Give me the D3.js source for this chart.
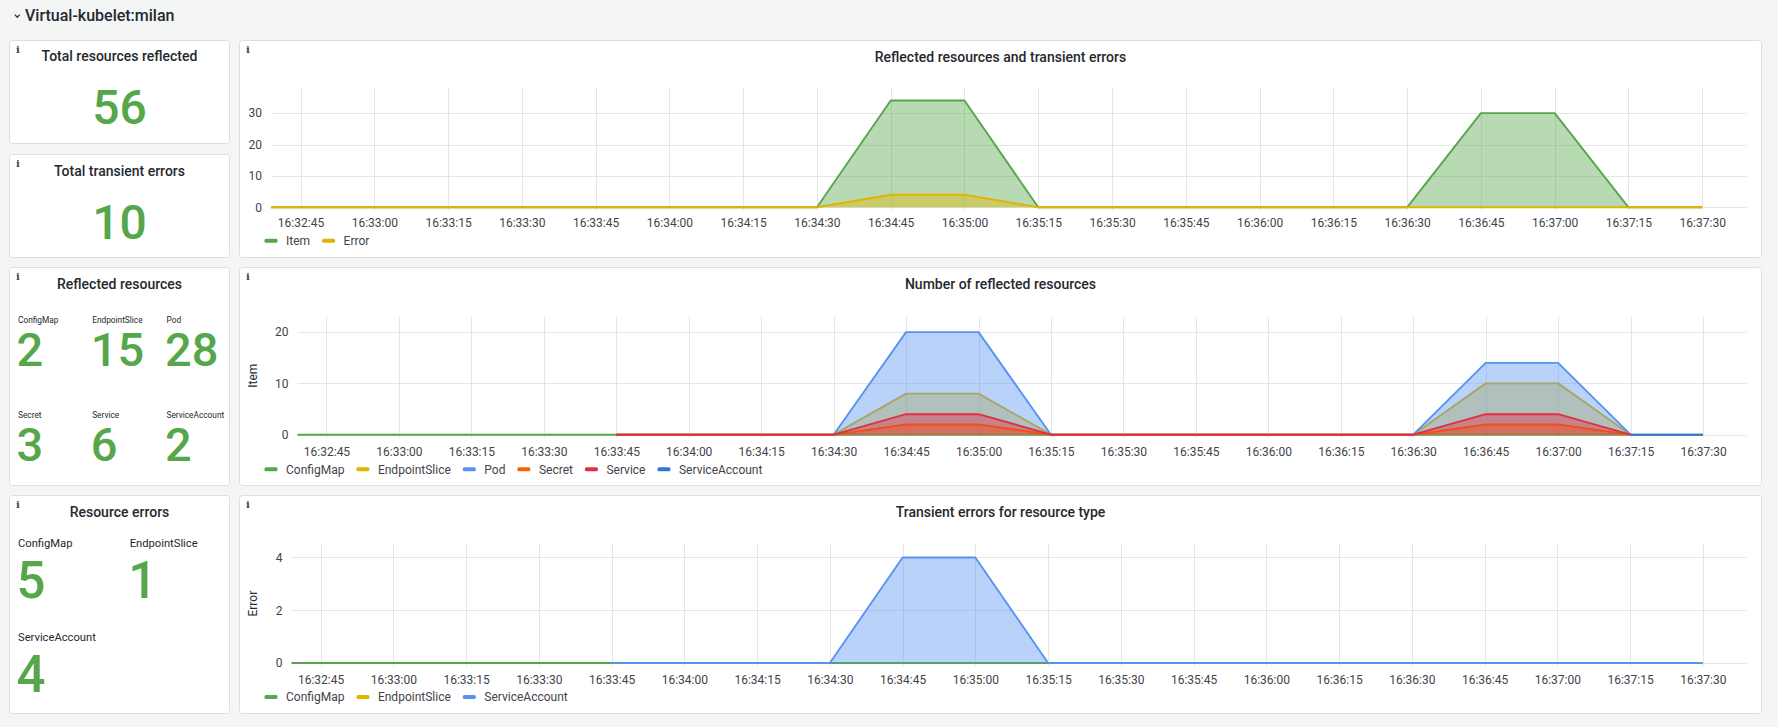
<!DOCTYPE html>
<html><head><meta charset="utf-8">
<script src="https://cdn.jsdelivr.net/npm/d3@7"></script>
<style>
html,body{margin:0;padding:0;background:#f4f5f5;overflow:hidden;}
svg{display:block;}
</style></head><body>
<svg id="c" width="1778" height="727"></svg>
<script>
// ---------- DATA ----------
const n = null;
const timeLabels = ["16:32:30","16:32:45","16:33:00","16:33:15","16:33:30","16:33:45","16:34:00","16:34:15","16:34:30","16:34:45","16:35:00","16:35:15","16:35:30","16:35:45","16:36:00","16:36:15","16:36:30","16:36:45","16:37:00","16:37:15","16:37:30"];
const domainLabels = ["16:32:39","16:37:39"];

const totalTitles = ["Total resources reflected","Total transient errors"];
const totalValues = [56, 10];

const reflectedNames = ["ConfigMap","EndpointSlice","Pod","Secret","Service","ServiceAccount"];
const reflectedCounts = [2, 15, 28, 3, 6, 2];

const errorNames = ["ConfigMap","EndpointSlice","ServiceAccount"];
const errorCounts = [5, 1, 4];

// Chart 1: Reflected resources and transient errors
const chart1Names = ["Item","Error"];
const itemValues  = [0,0,0,0,0,0,0,0,0,34,34,0,0,0,0,0,0,30,30,0,0];
const errorValues = [0,0,0,0,0,0,0,0,0,4,4,0,0,0,0,0,0,0,0,0,0];
const chart1YTicks = [0,10,20,30];

// Chart 2: Number of reflected resources
const reflConfigMap      = [0,0,0,0,0,0,0,0,0,0,0,0,0,0,0,0,0,0,0,0,0];
const reflEndpointSlice  = [n,n,n,n,n,0,0,0,0,8,8,0,0,0,0,0,0,10,10,0,n];
const reflPod            = [n,n,n,n,n,0,0,0,0,20,20,0,0,0,0,0,0,14,14,0,n];
const reflSecret         = [n,n,n,n,n,0,0,0,0,2,2,0,0,0,0,0,0,2,2,0,n];
const reflService        = [n,n,n,n,n,0,0,0,0,4,4,0,0,0,0,0,0,4,4,0,n];
const reflServiceAccount = [n,n,n,n,n,n,n,n,n,n,n,n,n,n,n,n,n,n,n,0,0];
const chart2YTicks = [0,10,20];

// Chart 3: Transient errors for resource type
const errConfigMap      = [0,0,0,0,0,0,0,0,0,0,0,0,0,0,0,0,0,0,0,0,0];
const errEndpointSlice  = [n,n,n,n,n,0,0,0,0,n,n,0,0,0,0,0,0,0,0,0,0];
const errServiceAccount = [n,n,n,n,n,0,0,0,0,4,4,0,0,0,0,0,0,0,0,0,0];
const chart3YTicks = [0,2,4];

// ---------- STYLE ----------
const FONT = "Roboto, 'Noto Sans', sans-serif";
const COL = {green:"#56A64B", yellow:"#E0B400", blue:"#5794F2", orange:"#FA6400", red:"#E02F44", darkBlue:"#3274D9"};
const TEXT = "#24292E", MUTED = "#3f444b", GRID = "#e6e6e6", BORDER = "#dcdee0";

const svg = d3.select("#c");
const parse = d3.timeParse("%H:%M:%S");
const times = timeLabels.map(parse);
const domain = domainLabels.map(parse);

function txt(x, y, s, size, weight, fill, anchor, family){
  return svg.append("text").attr("x", x).attr("y", y).text(s)
    .attr("font-family", family || FONT).attr("font-size", size)
    .attr("font-weight", weight).attr("fill", fill).attr("text-anchor", anchor || "start");
}

function panel(x, y, w, h){
  svg.append("rect").attr("x", x + 0.5).attr("y", y + 0.5).attr("width", w - 1).attr("height", h - 1)
    .attr("rx", 3).attr("fill", "#fff").attr("stroke", BORDER);
  txt(x + 7, y + 12.7, "i", 10, "bold", "#444", "start", "'DejaVu Serif', serif");
}

// ---------- HEADER ----------
svg.append("path").attr("d", "M14.8,14.6 L17.3,17.2 L19.8,14.6").attr("fill", "none")
  .attr("stroke", "#333").attr("stroke-width", 1.3);
txt(25, 21.3, "Virtual-kubelet:milan", 16, 500, TEXT);

// ---------- STAT PANELS ----------
const statX = 9, statW = 221;
[[40, 104, 61, 124], [154, 104, 175.5, 239]].forEach((p, i) => {
  panel(statX, p[0], statW, p[1]);
  txt(statX + statW / 2, p[2], totalTitles[i], 14, 500, TEXT, "middle");
  txt(statX + statW / 2, p[3], totalValues[i], 48, 500, COL.green, "middle");
});

// Reflected resources
panel(statX, 267, statW, 219);
txt(statX + statW / 2, 289.3, "Reflected resources", 14, 500, TEXT, "middle");
const reflCols = [18, 92.2, 166.5], reflLab = [322.5, 417.5], reflVal = [366, 461];
reflectedNames.forEach((nm, i) => {
  const c = i % 3, r = Math.floor(i / 3);
  txt(reflCols[c], reflLab[r], nm, 8.3, 400, TEXT);
  txt(reflCols[c] - 1.5, reflVal[r], reflectedCounts[i], 47, 500, COL.green);
});

// Resource errors
panel(statX, 495, statW, 219);
txt(statX + statW / 2, 517.3, "Resource errors", 14, 500, TEXT, "middle");
const errCols = [18, 129.7], errLab = [547.2, 641], errVal = [598.3, 691.7];
errorNames.forEach((nm, i) => {
  const c = i % 2, r = Math.floor(i / 2);
  txt(errCols[c], errLab[r], nm, 11.2, 400, TEXT);
  txt(errCols[c] - 1.5, errVal[r], errorCounts[i], 51, 500, COL.green);
});

// ---------- TIME SERIES PANELS ----------
let clipId = 0;
function chart(cfg){
  const px = 239, pw = 1523;
  panel(px, cfg.top, pw, cfg.h);
  txt(px + pw / 2, cfg.top + 22.3, cfg.title, 14, 500, TEXT, "middle");

  const right = 1746.5;
  const x = d3.scaleTime().domain(domain).range([cfg.left, right]);
  const y = d3.scaleLinear().domain([0, cfg.yMax]).range([cfg.y0, cfg.plotTop]);
  const g = svg.append("g");
  const xt = x.ticks(d3.timeSecond.every(15));

  g.selectAll(null).data(xt).join("line")
    .attr("x1", d => Math.round(x(d)) + 0.5).attr("x2", d => Math.round(x(d)) + 0.5)
    .attr("y1", cfg.plotTop).attr("y2", cfg.y0 + 3)
    .attr("stroke", GRID).attr("stroke-width", 1);
  g.selectAll(null).data(cfg.yTicks).join("line")
    .attr("x1", cfg.left).attr("x2", right)
    .attr("y1", d => Math.round(y(d)) + 0.5).attr("y2", d => Math.round(y(d)) + 0.5)
    .attr("stroke", GRID).attr("stroke-width", 1);

  const ax = g.append("g").attr("transform", `translate(0,${cfg.y0})`)
    .call(d3.axisBottom(x).ticks(d3.timeSecond.every(15)).tickFormat(d3.timeFormat("%H:%M:%S"))
      .tickSize(0).tickPadding(cfg.xPad));
  ax.select(".domain").remove();
  ax.selectAll("text").attr("font-family", FONT).attr("font-size", 12).attr("fill", MUTED);

  const ay = g.append("g").attr("transform", `translate(${cfg.left},0)`)
    .call(d3.axisLeft(y).tickValues(cfg.yTicks).tickFormat(d3.format("d")).tickSize(0).tickPadding(9));
  ay.select(".domain").remove();
  ay.selectAll("text").attr("font-family", FONT).attr("font-size", 12).attr("fill", MUTED);

  if (cfg.axisLabel) {
    svg.append("text").attr("transform", `translate(257,${(cfg.plotTop + cfg.y0) / 2}) rotate(-90)`)
      .attr("text-anchor", "middle").attr("font-family", FONT).attr("font-size", 12)
      .attr("fill", TEXT).text(cfg.axisLabel);
  }

  const id = "clip" + (clipId++);
  svg.append("clipPath").attr("id", id).append("rect")
    .attr("x", cfg.left).attr("y", cfg.plotTop - 10).attr("width", right - cfg.left).attr("height", cfg.y0 - cfg.plotTop + 14);
  const dg = svg.append("g").attr("clip-path", `url(#${id})`);

  cfg.series.forEach(s => {
    const pts = times.map((t, i) => ({t, v: s.values[i]}));
    const area = d3.area().defined(d => d.v != null).x(d => x(d.t)).y0(y(0)).y1(d => y(d.v));
    const line = d3.line().defined(d => d.v != null).x(d => x(d.t)).y(d => y(d.v));
    dg.append("path").attr("d", area(pts)).attr("fill", s.color).attr("fill-opacity", 0.42);
    dg.append("path").attr("d", line(pts)).attr("fill", "none").attr("stroke", s.color)
      .attr("stroke-width", 1.9).attr("stroke-linejoin", "round");
  });

  // legend
  let lx = px + 25.5;
  const ly = cfg.legendY;
  cfg.series.forEach(s => {
    svg.append("rect").attr("x", lx).attr("y", ly - 2).attr("width", 13).attr("height", 4)
      .attr("rx", 1.5).attr("fill", s.color);
    const t = txt(lx + 21.5, ly + 4.3, s.name, 12, 400, MUTED);
    lx += 21.5 + t.node().getComputedTextLength() + 12;
  });
}

chart({
  top: 40, h: 218, title: "Reflected resources and transient errors",
  left: 271, plotTop: 88, y0: 207.3, yMax: 38, yTicks: chart1YTicks, xPad: 11, legendY: 240.7,
  series: [
    {name: chart1Names[0], values: itemValues, color: COL.green},
    {name: chart1Names[1], values: errorValues, color: COL.yellow}
  ]
});

const reflSeries = [reflConfigMap, reflEndpointSlice, reflPod, reflSecret, reflService, reflServiceAccount];
const reflColors = [COL.green, COL.yellow, COL.blue, COL.orange, COL.red, COL.darkBlue];
chart({
  top: 267, h: 219, title: "Number of reflected resources", axisLabel: "Item",
  left: 297.5, plotTop: 316.7, y0: 434.7, yMax: 23, yTicks: chart2YTicks, xPad: 12.5, legendY: 469.3,
  series: reflectedNames.map((nm, i) => ({name: nm, values: reflSeries[i], color: reflColors[i]}))
});

const errSeries = [errConfigMap, errEndpointSlice, errServiceAccount];
const errColors = [COL.green, COL.yellow, COL.blue];
chart({
  top: 495, h: 219, title: "Transient errors for resource type", axisLabel: "Error",
  left: 291.5, plotTop: 544.3, y0: 663, yMax: 4.5, yTicks: chart3YTicks, xPad: 12, legendY: 697,
  series: errorNames.map((nm, i) => ({name: nm, values: errSeries[i], color: errColors[i]}))
});
</script>
</body></html>
